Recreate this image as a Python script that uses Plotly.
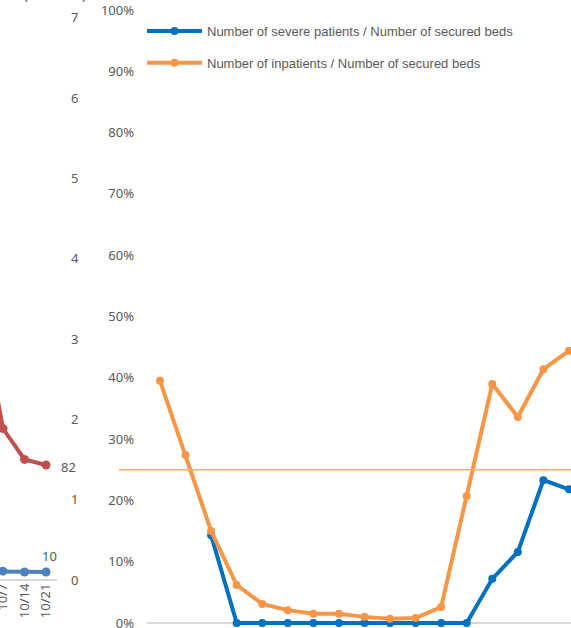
import plotly.graph_objects as go

# left (partially visible) chart: weekly counts
left_dates = ["9/30", "10/7", "10/14", "10/21"]
left_red = [190, 108, 86, 82]        # persons
left_blue = [11, 11, 10, 10]         # persons
left_ticks = [0, 1, 2, 3, 4, 5, 6, 7]  # hundreds

# right chart: ratios to secured beds
periods = list(range(17))
severe_ratio = [None, None, 0.143, 0, 0, 0, 0, 0, 0, 0, 0, 0, 0,
                0.072, 0.116, 0.233, 0.218]
inpatient_ratio = [0.395, 0.274, 0.150, 0.062, 0.031, 0.021, 0.015, 0.015,
                   0.010, 0.007, 0.008, 0.026, 0.207, 0.390, 0.336, 0.414, 0.444]
threshold = 0.25
pct_ticks = [i / 10 for i in range(11)]

W, H = 571, 628
grey = "#595959"
tick_font = dict(family="Noto Sans", size=13, color=grey)

fig = go.Figure()

fig.add_trace(go.Scatter(
    x=periods, y=severe_ratio, mode="lines+markers",
    name="Number of severe patients / Number of secured beds",
    line=dict(color="#0070C0", width=4), marker=dict(size=8, color="#0070C0"),
    legendgroup="a", cliponaxis=False, xaxis="x", yaxis="y"))
fig.add_trace(go.Scatter(
    x=periods, y=inpatient_ratio, mode="lines+markers",
    name="Number of inpatients / Number of secured beds",
    line=dict(color="#F79646", width=4), marker=dict(size=8, color="#F79646"),
    legendgroup="b", cliponaxis=False, xaxis="x", yaxis="y"))

left_x = list(range(len(left_dates)))
fig.add_trace(go.Scatter(
    x=left_x, y=[v / 100 for v in left_blue], mode="lines+markers",
    line=dict(color="#4F81BD", width=4), marker=dict(size=9, color="#4F81BD"),
    showlegend=False, cliponaxis=False, xaxis="x2", yaxis="y2"))
fig.add_trace(go.Scatter(
    x=left_x, y=left_red, mode="lines+markers",
    line=dict(color="#C0504D", width=4), marker=dict(size=9, color="#C0504D"),
    showlegend=False, cliponaxis=False, xaxis="x2", yaxis="y3"))

# data labels on the last points
fig.add_annotation(x=left_x[-1], y=left_blue[-1] / 100, xref="x2", yref="y2",
                   text=str(left_blue[-1]), showarrow=False, xanchor="center",
                   yanchor="bottom", xshift=3, yshift=5, font=tick_font)
fig.add_annotation(x=left_x[-1], y=left_red[-1], xref="x2", yref="y3",
                   text=str(left_red[-1]), showarrow=False, xanchor="left",
                   yanchor="middle", xshift=13, yshift=-2, font=tick_font)

# right chart axes: 0% at y=623px, 100% at y=10px
px_per = 613
fig.update_layout(
    xaxis=dict(domain=[147 / W, 1], range=[-0.509, 16.08], visible=False),
    yaxis=dict(domain=[0, 1], range=[-5 / px_per, 623 / px_per],
               tickvals=pct_ticks, tickformat=".0%", showgrid=False,
               zeroline=True, zerolinecolor="#d9d9d9", zerolinewidth=1.5,
               ticks="", ticklabelstandoff=12, tickfont=tick_font, anchor="x",
               ticklabeloverflow="allow"),
    xaxis2=dict(domain=[0, 57 / W], range=[0.86, 3.51],
                tickvals=left_x, ticktext=left_dates,
                tickangle=-90, tickfont=tick_font, showgrid=False,
                zeroline=False, ticks="", anchor="y2",
                ticklabeloverflow="allow"),
    yaxis2=dict(domain=[48 / H, 1], range=[0, 580 / 80.3], side="right",
                tickvals=left_ticks, showgrid=False, zeroline=True,
                zerolinecolor="#d9d9d9", zerolinewidth=1.5, ticks="",
                ticklabelstandoff=13, tickfont=tick_font, anchor="x2"),
    yaxis3=dict(domain=[48 / H, 1], range=[0, 580 * 82 / 115], overlaying="y2",
                visible=False, anchor="x2"),
)

fig.add_shape(type="line", xref="paper", yref="y", x0=119 / W, x1=1,
              y0=threshold, y1=threshold, line=dict(color="#FFC000", width=1.5))

fig.add_annotation(text="(Hundred)", xref="paper", yref="paper",
                   x=55 / W, y=1 - 6 / H, xanchor="center", yanchor="bottom",
                   showarrow=False, font=tick_font)

fig.update_layout(
    width=W, height=H,
    margin=dict(l=0, r=0, t=0, b=0, autoexpand=False),
    paper_bgcolor="white", plot_bgcolor="white",
    legend=dict(x=142 / W, y=1 - 16 / H, xanchor="left", yanchor="top",
                font=dict(family="Liberation Sans", size=13, color=grey),
                tracegroupgap=12, itemwidth=55, bgcolor="rgba(0,0,0,0)"),
)

fig.write_html("out.html", config={"displayModeBar": False},
               post_script="document.body.style.margin='0';")
